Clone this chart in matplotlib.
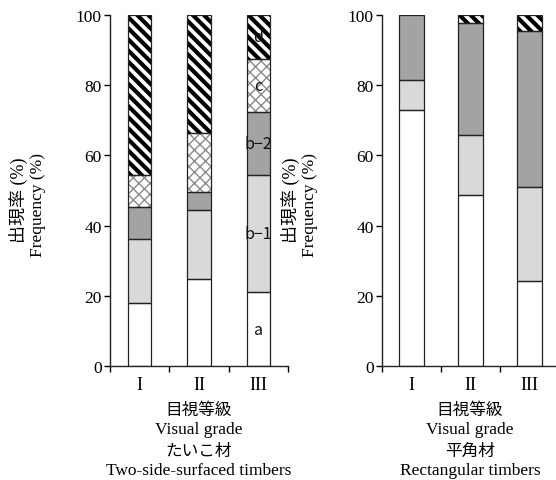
import matplotlib
matplotlib.use("Agg")
import matplotlib.pyplot as plt
import numpy as np

# ---- data ----
grades = ["I", "II", "III"]
seg_names = ["a", "b\u22121", "b\u22122", "c", "d"]

left_a = [18.0, 24.8, 21.0]
left_b1 = [18.3, 19.6, 33.3]
left_b2 = [9.1, 5.3, 18.2]
left_c = [8.9, 16.8, 15.1]
left_d = [45.7, 33.5, 12.4]

right_a = [72.8, 48.7, 24.3]
right_b1 = [8.8, 17.2, 26.6]
right_b2 = [18.4, 31.7, 44.5]
right_c = [0.0, 0.0, 0.0]
right_d = [0.0, 2.4, 4.6]

yticks = [0, 20, 40, 60, 80, 100]
ylabel_jp = "出現率 (%)"
ylabel_en = "Frequency (%)"
xlabel_jp = "目視等級"
xlabel_en = "Visual grade"
left_title_jp = "たいこ材"
left_title_en = "Two-side-surfaced timbers"
right_title_jp = "平角材"
right_title_en = "Rectangular timbers"

W, H = 556, 481
fig = plt.figure(figsize=(W / 100, H / 100), dpi=100)

SERIF = ["Liberation Serif", "Noto Sans CJK JP"]
JP = ["Noto Sans CJK JP", "DejaVu Sans"]


def px_axes(x0, x1, ytop, ybot):
    return fig.add_axes([x0 / W, 1 - ybot / H, (x1 - x0) / W, (ybot - ytop) / H])


def draw_panel(ax, segs, width):
    x = np.arange(len(grades))
    bottom = np.zeros(len(grades))
    styles = [
        dict(color="white"),
        dict(color="#d9d9d9"),
        dict(color="#a3a3a3"),
        dict(color="white", hatch="xxx", hcol="#8a8a8a", hlw=1.0),
        dict(color="white", hatch="\\\\\\", hcol="black", hlw=3.0),
    ]
    for vals, st in zip(segs, styles):
        vals = np.asarray(vals, dtype=float)
        mask = vals > 0
        if "hatch" in st:
            bars = ax.bar(x[mask], vals[mask], width, bottom=bottom[mask],
                          color=st["color"], edgecolor=st["hcol"], linewidth=0,
                          hatch=st["hatch"], zorder=2)
            for b in bars:
                if hasattr(b, "set_hatch_linewidth"):
                    b.set_hatch_linewidth(st["hlw"])
        else:
            ax.bar(x[mask], vals[mask], width, bottom=bottom[mask],
                   color=st["color"], edgecolor="none", zorder=2)
        ax.bar(x[mask], vals[mask], width, bottom=bottom[mask],
               facecolor="none", edgecolor="#222222", linewidth=0.9, zorder=3)
        bottom = bottom + vals
    ax.set_xlim(-0.5, len(grades) - 0.5)
    ax.set_ylim(0, 100)
    for s in ["top", "right"]:
        ax.spines[s].set_visible(False)
    for s in ["left", "bottom"]:
        ax.spines[s].set_linewidth(1.0)
        ax.spines[s].set_color("#222222")
    ax.set_yticks(yticks)
    ax.set_yticklabels([str(v) for v in yticks], family=SERIF, fontsize=12.5)
    ax.tick_params(axis="y", direction="out", length=4, width=1, pad=2)
    ax.set_xticks(np.arange(len(grades) + 1) - 0.5)
    ax.set_xticklabels([])
    ax.tick_params(axis="x", direction="out", length=4, width=1)
    ax.set_xticks(np.arange(len(grades)), minor=True)
    ax.set_xticklabels(grades, minor=True, family=SERIF, fontsize=13)
    ax.tick_params(axis="x", which="minor", length=0, pad=7)


plt.rcParams["hatch.linewidth"] = 3.0
axL = px_axes(110, 288, 16, 367)
draw_panel(axL, [left_a, left_b1, left_b2, left_c, left_d], 0.39)
axR = px_axes(382, 559, 16, 367)
draw_panel(axR, [right_a, right_b1, right_b2, right_c, right_d], 0.42)

# segment labels inside bar III of the left panel
segsL = [left_a, left_b1, left_b2, left_c, left_d]
cum = 0.0
for name, vals in zip(seg_names, segsL):
    v = vals[2]
    axL.text(2, cum + v / 2, name, ha="center", va="center", family=JP,
             fontsize=11.5, zorder=5, color="#111111")
    cum += v

# y labels
for xj, xe in [(18, 38), (290, 310)]:
    fig.text(xj / W, 1 - 200 / H, ylabel_jp, rotation=90, ha="center", va="center",
             family=SERIF, fontsize=13)
    fig.text(xe / W, 1 - 205 / H, ylabel_en, rotation=90, ha="center", va="center",
             family=SERIF, fontsize=12.5)

# bottom labels
for cx, tj, te in [(199, left_title_jp, left_title_en), (470, right_title_jp, right_title_en)]:
    fig.text(cx / W, 1 - 410 / H, xlabel_jp, ha="center", va="center", family=JP, fontsize=12)
    fig.text(cx / W, 1 - 430 / H, xlabel_en, ha="center", va="center", family=SERIF, fontsize=12.5)
    fig.text(cx / W, 1 - 451 / H, tj, ha="center", va="center", family=JP, fontsize=12)
    fig.text(cx / W, 1 - 471 / H, te, ha="center", va="center", family=SERIF, fontsize=12.5)

fig.savefig("out.png", dpi=100)
